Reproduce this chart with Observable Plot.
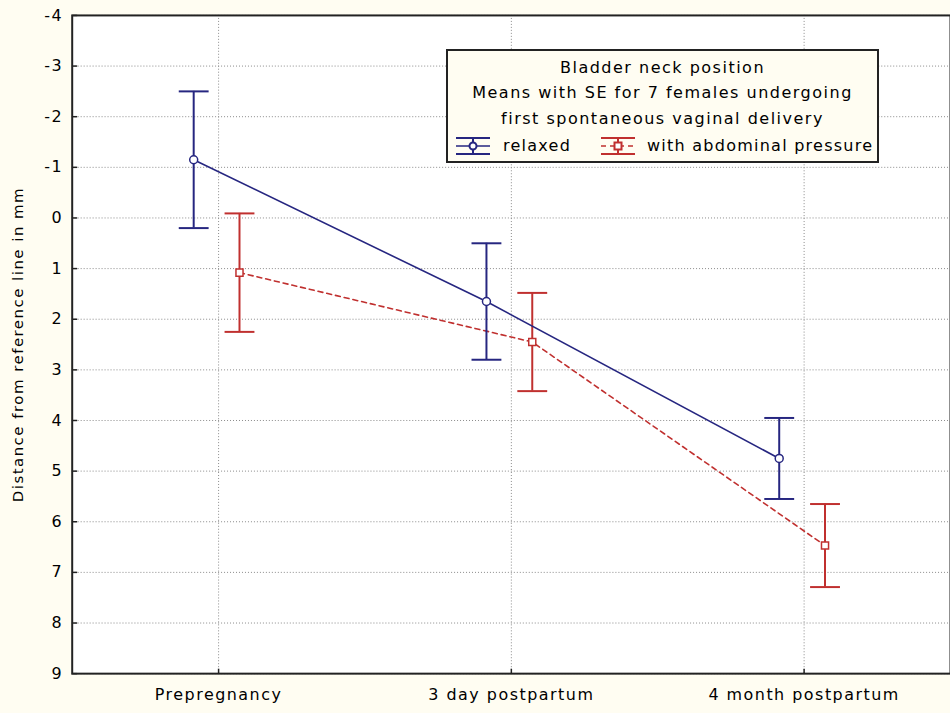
<!DOCTYPE html>
<html><head><meta charset="utf-8">
<script src="https://cdn.jsdelivr.net/npm/d3@7"></script>
<script src="https://cdn.jsdelivr.net/npm/@observablehq/plot@0.6"></script>
<style>
html,body{margin:0;padding:0;background:#FFFDF2;overflow:hidden;width:950px;height:713px}
#wrap{position:relative;width:950px;height:713px;overflow:hidden}
#chart svg{display:block}
#chart svg text{letter-spacing:1.5px}
#chart svg text.ytitle{letter-spacing:0.7px}
#legend{position:absolute;left:446px;top:49px;width:433px;height:114px;box-sizing:border-box;border:2px solid #222;background:#FFFDF2;font-family:"DejaVu Sans",sans-serif;font-size:16px;color:#000;letter-spacing:1.5px;text-align:center}
#legend .l{position:absolute;left:0;right:0;line-height:20px;white-space:nowrap}
#legend .it{position:absolute;top:85px;height:20px;line-height:20px;white-space:nowrap;letter-spacing:1.25px}
#legend svg{display:block}
</style></head><body>
<div id="wrap"><div id="chart"></div>
<div id="legend">
  <div class="l" style="top:7px">Bladder neck position</div>
  <div class="l" style="top:32px">Means with SE for 7 females undergoing</div>
  <div class="l" style="top:58px">first spontaneous vaginal delivery</div>
  <svg class="it" style="left:7px" width="36" height="20" viewBox="0 0 36 20"><g stroke="#262680" stroke-width="2" fill="none"><line x1="1" y1="2" x2="35" y2="2"/><line x1="1" y1="18" x2="35" y2="18"/><line x1="18" y1="2" x2="18" y2="18"/><line x1="1" y1="10" x2="35" y2="10" stroke-width="1.5"/><circle cx="18" cy="10" r="3.5" fill="#fff"/></g></svg>
  <span class="it" style="left:55px">relaxed</span>
  <svg class="it" style="left:152px" width="36" height="20" viewBox="0 0 36 20"><g stroke="#C0302F" stroke-width="2" fill="none"><line x1="1" y1="2" x2="35" y2="2"/><line x1="1" y1="18" x2="35" y2="18"/><line x1="18" y1="2" x2="18" y2="18"/><line x1="1" y1="10" x2="35" y2="10" stroke-width="1.5" stroke-dasharray="5,4"/><rect x="14.5" y="6.5" width="7" height="7" fill="#fff"/></g></svg>
  <span class="it" style="left:199px">with abdominal pressure</span>
</div>
</div>
<script>
const categories = ["Prepregnancy", "3 day postpartum", "4 month postpartum"];
const relaxedMean = [-1.15, 1.65, 4.75];
const relaxedSE = [1.35, 1.15, 0.8];
const pressureMean = [1.08, 2.45, 6.47];
const pressureSE = [1.17, 0.97, 0.82];
const yTicks = [-4, -3, -2, -1, 0, 1, 2, 3, 4, 5, 6, 7, 8, 9];
const yTitle = "Distance from reference line in mm";

const blue = "#262680", red = "#C0302F";
const relaxed = categories.map((c, i) => ({cat: c, mean: relaxedMean[i], lo: relaxedMean[i] - relaxedSE[i], hi: relaxedMean[i] + relaxedSE[i]}));
const pressure = categories.map((c, i) => ({cat: c, mean: pressureMean[i], lo: pressureMean[i] - pressureSE[i], hi: pressureMean[i] + pressureSE[i]}));

const cap = {draw(ctx) { ctx.moveTo(-15, 0); ctx.lineTo(15, 0); }};
const yTickSym = {draw(ctx) { ctx.moveTo(0, 0); ctx.lineTo(5, 0); }};
const xTickSym = {draw(ctx) { ctx.moveTo(0, 0); ctx.lineTo(0, -5); }};

function series(data, color, dx, symbol, dash) {
  return [
    Plot.line(data, {x: "cat", y: "mean", dx, stroke: color, strokeWidth: 1.6, strokeDasharray: dash}),
    Plot.ruleX(data, {x: "cat", y1: "lo", y2: "hi", dx, stroke: color, strokeWidth: 2}),
    Plot.dot(data, {x: "cat", y: "lo", dx, symbol: cap, stroke: color, strokeWidth: 2, fill: "none"}),
    Plot.dot(data, {x: "cat", y: "hi", dx, symbol: cap, stroke: color, strokeWidth: 2, fill: "none"}),
    Plot.dot(data, {x: "cat", y: "mean", dx, symbol, r: 4, stroke: color, strokeWidth: 1.5, fill: "#fff"})
  ];
}

const chart = Plot.plot({
  width: 954,
  height: 713,
  marginLeft: 72,
  marginTop: 15,
  marginRight: 0,
  marginBottom: 37,
  style: {background: "transparent", fontFamily: "DejaVu Sans, sans-serif", fontSize: "16px", color: "#000", overflow: "visible"},
  x: {type: "point", domain: categories, padding: 0.5, label: null},
  y: {domain: [-4, 9], reverse: true, label: null},
  marks: [
    Plot.frame({fill: "#fff"}),
    Plot.gridY(yTicks, {stroke: "#8a8a8a", strokeOpacity: 1, strokeDasharray: "1,2"}),
    Plot.gridX(categories, {stroke: "#8a8a8a", strokeOpacity: 1, strokeDasharray: "1,2"}),
    ...series(pressure, red, 21, "square", "5,4"),
    ...series(relaxed, blue, -25, "circle", null),
    Plot.dot(yTicks, {y: d => d, frameAnchor: "left", symbol: yTickSym, stroke: "#222"}),
    Plot.dot(categories, {x: d => d, frameAnchor: "bottom", symbol: xTickSym, stroke: "#222"}),
    Plot.frame({stroke: "#222", strokeWidth: 2}),
    Plot.axisY(yTicks, {tickSize: 0, tickPadding: 9, label: null, tickFormat: d => String(d)}),
    Plot.axisX(categories, {tickSize: 0, tickPadding: 15, label: null}),
    Plot.text([yTitle], {frameAnchor: "left", rotate: -90, dx: -54, fontSize: 15, textAnchor: "middle", className: "ytitle"})
  ]
});
document.getElementById("chart").appendChild(chart);
</script>
</body></html>
